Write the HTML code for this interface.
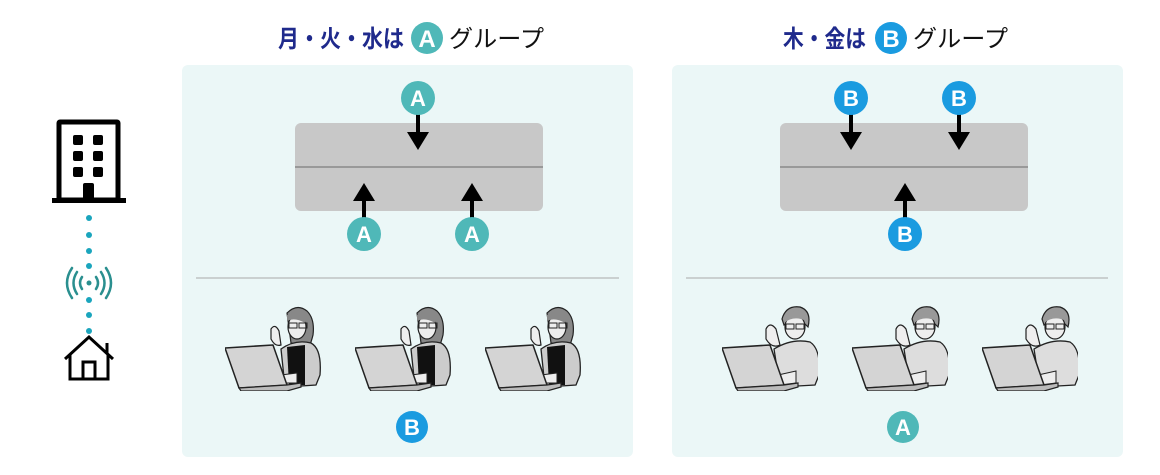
<!DOCTYPE html>
<html><head><meta charset="utf-8"><style>
body{margin:0;width:1160px;height:470px;background:#fff;overflow:hidden;font-family:"Liberation Sans","Noto Sans CJK JP",sans-serif}
</style></head><body>
<svg width="1160" height="470" viewBox="0 0 1160 470" xmlns="http://www.w3.org/2000/svg">
<defs>
<symbol id="lap" viewBox="0 0 96 86">
<polygon points="0,43 48,40 62,80 14,83" fill="#d4d4d4" stroke="#222" stroke-width="1.5" stroke-linejoin="round"/>
<polygon points="14,83 62,80 76,78 76,82 62,86 16,86" fill="#bbb" stroke="#222" stroke-width="1.2"/>
</symbol>
<symbol id="woman" viewBox="0 0 96 86">
<path d="M62,8 Q72,-2 82,6 Q90,14 88,30 Q86,38 84,42 L66,38 Z" fill="#888" stroke="#222" stroke-width="1.2"/>
<ellipse cx="72" cy="22" rx="9" ry="12" fill="#eee" stroke="#222" stroke-width="1.2"/>
<path d="M62,10 Q74,4 82,14 L80,18 Q70,12 62,16 Z" fill="#888"/>
<path d="M56,44 Q70,34 86,38 Q97,44 95,70 L91,80 L60,82 Z" fill="#ccc" stroke="#222" stroke-width="1.3"/>
<path d="M62,42 L80,40 L80,80 L64,80 Z" fill="#111"/>
<path d="M46,24 Q50,18 54,26 L56,40 Q50,42 46,34 Z" fill="#eee" stroke="#222" stroke-width="1.2"/>
<rect x="64" y="18" width="8" height="5" fill="none" stroke="#222"/><rect x="74" y="18" width="8" height="5" fill="none" stroke="#222"/>
<path d="M56,70 L72,68 L72,78 L58,78 Z" fill="#eee" stroke="#222" stroke-width="1"/>
</symbol>
<symbol id="man" viewBox="0 0 96 86">
<path d="M60,14 Q64,0 78,2 Q90,6 86,22 L80,16 Q70,14 62,20 Z" fill="#999" stroke="#222" stroke-width="1.2"/>
<ellipse cx="73" cy="22" rx="10" ry="12" fill="#eee" stroke="#222" stroke-width="1.2"/>
<path d="M62,12 Q72,2 84,8 L84,16 Q72,10 62,18 Z" fill="#999"/>
<path d="M52,44 Q70,33 88,37 Q99,44 97,70 L93,80 L58,82 Z" fill="#ddd" stroke="#222" stroke-width="1.3"/>
<path d="M44,24 Q48,16 54,24 L58,40 Q50,44 44,34 Z" fill="#eee" stroke="#222" stroke-width="1.2"/>
<rect x="64" y="19" width="8" height="5" fill="none" stroke="#222"/><rect x="74" y="19" width="8" height="5" fill="none" stroke="#222"/>
<path d="M56,70 L74,66 L74,78 L58,80 Z" fill="#eee" stroke="#222" stroke-width="1"/>
</symbol>
</defs>

<!-- titles -->
<text x="278" y="47" font-size="24" font-weight="bold" fill="#1f2a8c" textLength="126" lengthAdjust="spacingAndGlyphs">月・火・水は</text>
<circle cx="427" cy="38" r="16" fill="#4fb8b8"/><text x="427" y="47" font-size="24" font-weight="bold" fill="#fff" text-anchor="middle">A</text>
<text x="449" y="47" font-size="24" fill="#111" textLength="95" lengthAdjust="spacingAndGlyphs">グループ</text>
<text x="783" y="47" font-size="24" font-weight="bold" fill="#1f2a8c" textLength="83" lengthAdjust="spacingAndGlyphs">木・金は</text>
<circle cx="891" cy="38" r="16" fill="#1a9be0"/><text x="891" y="47" font-size="24" font-weight="bold" fill="#fff" text-anchor="middle">B</text>
<text x="913" y="47" font-size="24" fill="#111" textLength="95" lengthAdjust="spacingAndGlyphs">グループ</text>

<!-- panels -->
<rect x="182" y="65" width="451" height="392" rx="6" fill="#ebf7f7"/>
<rect x="672" y="65" width="451" height="392" rx="6" fill="#ebf7f7"/>
<rect x="295" y="123" width="248" height="88" rx="6" fill="#c8c8c8"/>
<rect x="780" y="123" width="248" height="88" rx="6" fill="#c8c8c8"/>
<line x1="295" y1="167" x2="543" y2="167" stroke="#999" stroke-width="2"/>
<line x1="780" y1="167" x2="1028" y2="167" stroke="#999" stroke-width="2"/>
<line x1="196" y1="278" x2="619" y2="278" stroke="#aaa"/>
<line x1="686" y1="278" x2="1108" y2="278" stroke="#aaa"/>

<!-- arrows -->
<g fill="#000" stroke="#000" stroke-width="4">
<line x1="418" y1="112" x2="418" y2="136"/><line x1="364" y1="220" x2="364" y2="196"/><line x1="472" y1="220" x2="472" y2="196"/>
<line x1="851" y1="112" x2="851" y2="136"/><line x1="959" y1="112" x2="959" y2="136"/><line x1="905" y1="220" x2="905" y2="196"/>
</g>
<g fill="#000">
<polygon points="407,132 429,132 418,150"/><polygon points="353,201 375,201 364,183"/><polygon points="461,201 483,201 472,183"/>
<polygon points="840,132 862,132 851,150"/><polygon points="948,132 970,132 959,150"/><polygon points="894,201 916,201 905,183"/>
</g>
<g font-size="22" font-weight="bold" fill="#fff" text-anchor="middle">
<circle cx="418" cy="98" r="17" fill="#4fb8b8"/><text x="418" y="106">A</text>
<circle cx="364" cy="234" r="17" fill="#4fb8b8"/><text x="364" y="242">A</text>
<circle cx="472" cy="234" r="17" fill="#4fb8b8"/><text x="472" y="242">A</text>
<circle cx="851" cy="98" r="17" fill="#1a9be0"/><text x="851" y="106">B</text>
<circle cx="959" cy="98" r="17" fill="#1a9be0"/><text x="959" y="106">B</text>
<circle cx="905" cy="234" r="17" fill="#1a9be0"/><text x="905" y="242">B</text>
<circle cx="412" cy="427" r="16" fill="#1a9be0"/><text x="412" y="435">B</text>
<circle cx="903" cy="427" r="16" fill="#4fb8b8"/><text x="903" y="435">A</text>
</g>

<!-- people -->
<use href="#woman" x="225" y="305" width="96" height="86"/><use href="#lap" x="225" y="305" width="96" height="86"/>
<use href="#woman" x="355" y="305" width="96" height="86"/><use href="#lap" x="355" y="305" width="96" height="86"/>
<use href="#woman" x="485" y="305" width="96" height="86"/><use href="#lap" x="485" y="305" width="96" height="86"/>
<use href="#man" x="722" y="305" width="96" height="86"/><use href="#lap" x="722" y="305" width="96" height="86"/>
<use href="#man" x="852" y="305" width="96" height="86"/><use href="#lap" x="852" y="305" width="96" height="86"/>
<use href="#man" x="982" y="305" width="96" height="86"/><use href="#lap" x="982" y="305" width="96" height="86"/>

<!-- building -->
<rect x="59" y="122" width="59" height="78" fill="none" stroke="#000" stroke-width="5" rx="1"/>
<rect x="52" y="198" width="74" height="5" fill="#000"/>
<g fill="#000">
<rect x="73" y="135" width="10" height="10" rx="2"/><rect x="93" y="135" width="10" height="10" rx="2"/>
<rect x="73" y="151" width="10" height="10" rx="2"/><rect x="93" y="151" width="10" height="10" rx="2"/>
<rect x="73" y="167" width="10" height="10" rx="2"/><rect x="93" y="167" width="10" height="10" rx="2"/>
<rect x="83" y="183" width="11" height="17" rx="2"/>
</g>
<g fill="#1aa5bd">
<circle cx="89" cy="218" r="3"/><circle cx="89" cy="235" r="3"/><circle cx="89" cy="251" r="3"/><circle cx="89" cy="266" r="3"/>
<circle cx="89" cy="300" r="3"/><circle cx="89" cy="315" r="3"/><circle cx="89" cy="331" r="3"/>
</g>
<g fill="none" stroke="#2a8f8f" stroke-width="2.5" stroke-linecap="round">
<circle cx="89" cy="283" r="2.5" fill="#2a8f8f" stroke="none"/>
<path d="M82,277 Q78,283 82,289"/><path d="M96,277 Q100,283 96,289"/>
<path d="M77,272 Q70,283 77,294"/><path d="M101,272 Q108,283 101,294"/>
<path d="M72,268 Q62,283 72,298"/><path d="M106,268 Q116,283 106,298"/>
</g>
<g fill="none" stroke="#000" stroke-width="3" stroke-linejoin="miter">
<polyline points="65,359 89,337 113,359"/>
<polyline points="70,354 70,379 108,379 108,354"/>
<rect x="83" y="362" width="12" height="17"/>
<line x1="107" y1="343" x2="107" y2="353"/>
</g>
</svg>
</body></html>
